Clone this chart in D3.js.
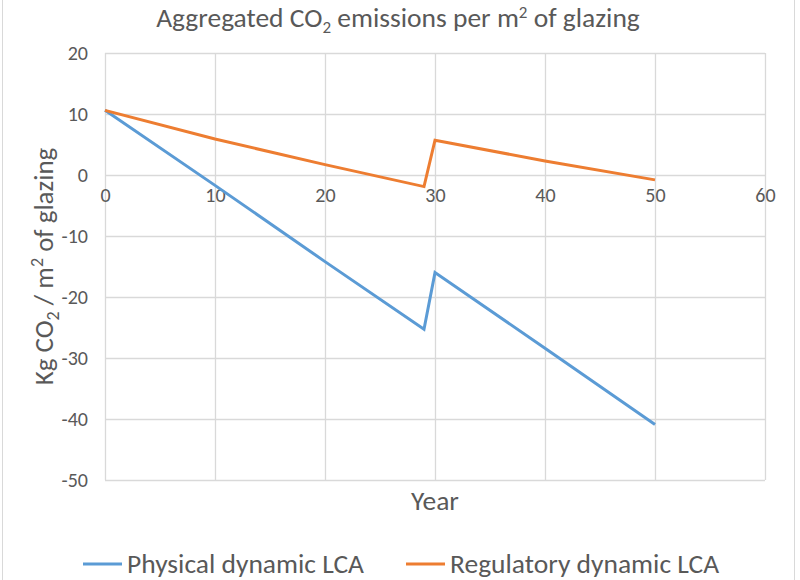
<!DOCTYPE html>
<html>
<head>
<meta charset="utf-8">
<script src="https://cdn.jsdelivr.net/npm/d3@7"></script>
<style>
  html, body { margin: 0; padding: 0; background: #fff; }
  svg { display: block; }
  text { font-family: Carlito, Lato, "Open Sans", sans-serif; fill: #595959; }
</style>
</head>
<body>
<svg id="chart" width="800" height="580"></svg>
<script>
// ---- data ----
const years = [0, 10, 20, 29, 30, 40, 50];
const physical = [10.6, -1.7, -14.2, -25.3, -16.0, -28.4, -40.9];
const regulatory = [10.6, 5.9, 1.7, -1.9, 5.7, 2.3, -0.8];
const seriesNames = ["Physical dynamic LCA", "Regulatory dynamic LCA"];
const xTicks = [0, 10, 20, 30, 40, 50, 60];
const yTicks = [20, 10, 0, -10, -20, -30, -40, -50];

const colors = ["#5B9BD5", "#ED7D31"];
const FONT = "Carlito, Lato, 'Open Sans', sans-serif";
const svg = d3.select("#chart");
const W = 800, H = 580;
const plot = { left: 105, right: 765, top: 53, bottom: 480 };

// chart border
svg.append("rect").attr("x", 2.5).attr("y", -2).attr("width", 792).attr("height", H + 4)
  .attr("fill", "#fff").attr("stroke", "#d9d9d9").attr("stroke-width", 1);

const x = d3.scaleLinear().domain([0, 60]).range([plot.left, plot.right]);
const y = d3.scaleLinear().domain([-50, 20]).range([plot.bottom, plot.top]);

// gridlines
const grid = svg.append("g");
grid.selectAll(".hg").data(yTicks).join("line")
  .attr("x1", plot.left).attr("x2", plot.right)
  .attr("y1", d => Math.round(y(d)) + 0.5).attr("y2", d => Math.round(y(d)) + 0.5)
  .attr("stroke", "#d9d9d9").attr("stroke-width", 1.3);
grid.selectAll(".vg").data(xTicks).join("line")
  .attr("y1", plot.top).attr("y2", plot.bottom)
  .attr("x1", d => Math.round(x(d)) + 0.5).attr("x2", d => Math.round(x(d)) + 0.5)
  .attr("stroke", "#d9d9d9").attr("stroke-width", 1.3);

// y axis labels via d3 axis
const yAxis = svg.append("g").attr("transform", `translate(${plot.left},0)`)
  .call(d3.axisLeft(y).tickValues(yTicks).tickSize(0).tickPadding(17).tickFormat(d => String(d)));
yAxis.select(".domain").remove();
yAxis.selectAll("text").attr("font-size", 20).style("fill", "#595959").style("font-family", FONT);

// x axis labels placed at y = 0
const xAxis = svg.append("g").attr("transform", `translate(0,${y(0)})`)
  .call(d3.axisBottom(x).tickValues(xTicks).tickSize(0).tickPadding(13).tickFormat(d => String(d)));
xAxis.select(".domain").remove();
xAxis.selectAll("text").attr("font-size", 20).style("fill", "#595959").style("font-family", FONT);

// lines
const line = d3.line().x(d => x(d[0])).y(d => y(d[1]));
[physical, regulatory].forEach((vals, i) => {
  svg.append("path")
    .datum(years.map((yr, j) => [yr, vals[j]]))
    .attr("d", line)
    .attr("fill", "none")
    .attr("stroke", colors[i])
    .attr("stroke-width", 3)
    .attr("stroke-linejoin", "miter")
    .attr("stroke-linecap", "butt");
});

// title
const title = svg.append("text").attr("x", 398).attr("y", 27).attr("text-anchor", "middle")
  .attr("font-size", 27.5);
title.append("tspan").text("Aggregated CO");
title.append("tspan").attr("font-size", 17).attr("dy", 6).text("2");
title.append("tspan").attr("dy", -6).text(" emissions per m");
title.append("tspan").attr("font-size", 17).attr("dy", -9).text("2");
title.append("tspan").attr("dy", 9).text(" of glazing");

// x axis title
svg.append("text").attr("x", (plot.left + plot.right) / 2).attr("y", 510)
  .attr("text-anchor", "middle").attr("font-size", 27.5).text("Year");

// y axis title
const yt = svg.append("text").attr("transform", `translate(53,${(plot.top + plot.bottom) / 2}) rotate(-90)`)
  .attr("text-anchor", "middle").attr("font-size", 27);
yt.append("tspan").text("Kg CO");
yt.append("tspan").attr("font-size", 18).attr("dy", 6).text("2");
yt.append("tspan").attr("dy", -6).text(" / m");
yt.append("tspan").attr("font-size", 18).attr("dy", -10).text("2");
yt.append("tspan").attr("dy", 10).text(" of glazing");

// legend
const legendX = [83, 406];
seriesNames.forEach((name, i) => {
  const g = svg.append("g").attr("transform", `translate(${legendX[i]},564)`);
  g.append("line").attr("x1", 0).attr("x2", 39).attr("y1", 0).attr("y2", 0)
    .attr("stroke", colors[i]).attr("stroke-width", 3);
  g.append("text").attr("x", 44).attr("y", 9).attr("font-size", 27.5).text(name);
});
</script>
</body>
</html>
